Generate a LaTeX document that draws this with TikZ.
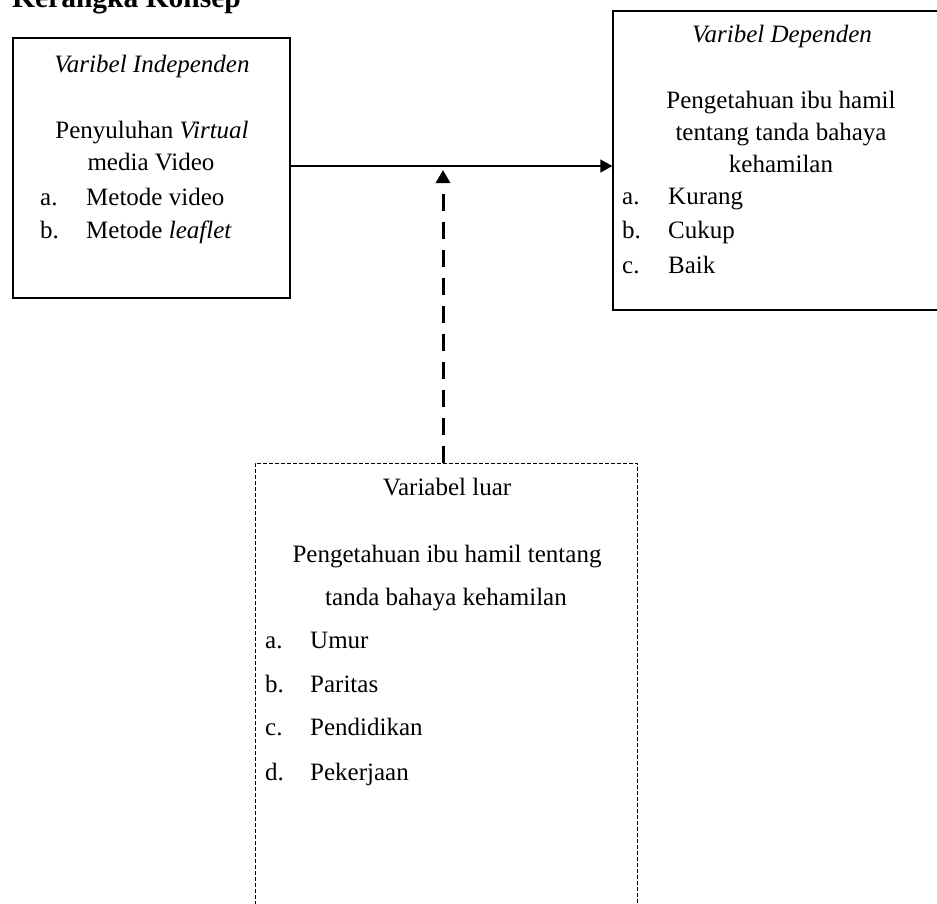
\documentclass[tikz,border=0pt]{standalone}
\usepackage{fontspec}
\setmainfont{Liberation Serif}
\usetikzlibrary{arrows.meta}
\begin{document}
\begin{tikzpicture}[x=1pt,y=-1pt,
  txt/.style={inner sep=0pt, anchor=base, font=\fontsize{25}{30}\selectfont},
  lft/.style={txt, anchor=base west},
  titlestyle/.style={inner sep=0pt, anchor=base west, font=\fontsize{29.5}{34}\selectfont\bfseries},
  solidbox/.style={draw, line width=1.3pt, inner sep=0pt},
  dashbox/.style={draw, line width=1pt, dash pattern=on 4pt off 2pt, inner sep=0pt},
  mainarrow/.style={line width=1.3pt, -{Triangle[width=13pt,length=12pt]}},
  dasharrow/.style={line width=3pt, dash pattern=on 17pt off 11pt, -{Triangle[width=14pt,length=13pt]}}]
\useasboundingbox (0,0) rectangle (937,903);
\clip (0,0) rectangle (937,903);

% title
\node[titlestyle] (title) at (12,7) {Kerangka Konsep};

% boxes
\node[solidbox, minimum width=277pt, minimum height=260pt] (indep) at (151.5,168) {};
\node[solidbox, minimum width=332pt, minimum height=299pt] (dep) at (779,160.5) {};
\node[dashbox, minimum width=382pt, minimum height=460pt] (luar) at (446,693) {};

% left box text
\node[txt] (i1) at (152,72) {\itshape Varibel Independen};
\node[txt] (i2) at (152,138) {Penyuluhan \textit{Virtual}};
\node[txt] (i3) at (151,170) {media Video};
\node[lft] (ia) at (40,205) {a.};
\node[lft] (iat) at (86,205) {Metode video};
\node[lft] (ib) at (40,238) {b.};
\node[lft] (ibt) at (86,238) {Metode \textit{leaflet}};

% right box text
\node[txt] (d1) at (782,42) {\itshape Varibel Dependen};
\node[txt] (d2) at (781,108) {Pengetahuan ibu hamil};
\node[txt] (d3) at (781,140) {tentang tanda bahaya};
\node[txt] (d4) at (781,172) {kehamilan};
\node[lft] (da) at (622,204) {a.};
\node[lft] (dat) at (668,204) {Kurang};
\node[lft] (db) at (622,238) {b.};
\node[lft] (dbt) at (668,238) {Cukup};
\node[lft] (dc) at (622,273) {c.};
\node[lft] (dct) at (668,273) {Baik};

% bottom box text
\node[txt] (l1) at (447,495) {Variabel luar};
\node[txt] (l2) at (447,562) {Pengetahuan ibu hamil tentang};
\node[txt] (l3) at (446,605) {tanda bahaya kehamilan};
\node[lft] (la) at (265,648) {a.};
\node[lft] (lat) at (310,648) {Umur};
\node[lft] (lb) at (265,692) {b.};
\node[lft] (lbt) at (310,692) {Paritas};
\node[lft] (lc) at (265,735) {c.};
\node[lft] (lct) at (310,735) {Pendidikan};
\node[lft] (ld) at (265,780) {d.};
\node[lft] (ldt) at (310,780) {Pekerjaan};

% connectors
\coordinate (tip) at (443,170);
\draw[mainarrow] (indep.east |- 0,166) -- (dep.west |- 0,166);
\draw[dasharrow] (luar.north -| tip) -- (tip);
\end{tikzpicture}
\end{document}
